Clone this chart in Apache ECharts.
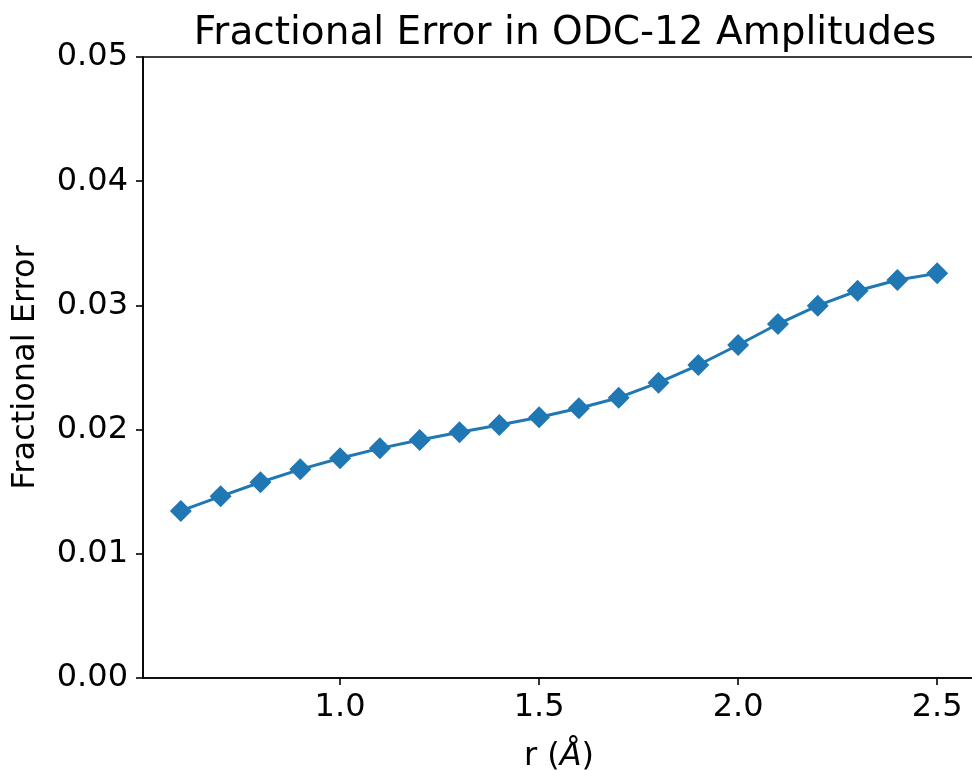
<!DOCTYPE html>
<html>
<head>
<meta charset="utf-8">
<script src="https://cdn.jsdelivr.net/npm/echarts@6/dist/echarts.min.js"></script>
<style>
html,body{margin:0;padding:0;background:#fff;}
#chart{width:972px;height:770px;}
</style>
</head>
<body>
<div id="chart"></div>
<script>
// ---- data ----
const rValues = [0.6, 0.7, 0.8, 0.9, 1.0, 1.1, 1.2, 1.3, 1.4, 1.5, 1.6, 1.7, 1.8, 1.9, 2.0, 2.1, 2.2, 2.3, 2.4, 2.5];
const fracError = [0.01345, 0.01463, 0.01576, 0.01680, 0.01769, 0.01849, 0.01916, 0.01978, 0.02037, 0.02099,
                   0.02172, 0.02257, 0.02378, 0.02520, 0.02681, 0.02850, 0.02998, 0.03118, 0.03205, 0.03258];
const xTicks = [1.0, 1.5, 2.0, 2.5];
const yTicks = [0.00, 0.01, 0.02, 0.03, 0.04, 0.05];
const titleText = 'Fractional Error in ODC-12 Amplitudes';
const yLabel = 'Fractional Error';

const font = 'DejaVu Sans';
const chart = echarts.init(document.getElementById('chart'), null, {renderer: 'canvas'});
const option = {
  animation: false,
  backgroundColor: '#ffffff',
  title: {
    text: titleText,
    left: 560,
    textAlign: 'center',
    top: 9,
    textStyle: {fontFamily: font, fontSize: 39, fontWeight: 'normal', color: '#000'}
  },
  grid: {
    left: 143, top: 57, width: 832, height: 621,
    containLabel: false,
    outerBoundsMode: 'none',
    show: true, borderColor: '#000', borderWidth: 1.6, backgroundColor: 'transparent'
  },
  xAxis: {
    type: 'value',
    min: 0.505, max: 2.595,
    name: '{n|r (}{i|Å}{n|)}',
    nameLocation: 'middle',
    nameGap: 63,
    nameTextStyle: {
      fontFamily: font, fontSize: 32, color: '#000',
      rich: {
        n: {fontFamily: font, fontSize: 32, color: '#000'},
        i: {fontFamily: font, fontSize: 32, color: '#000', fontStyle: 'italic'}
      }
    },
    axisLine: {show: true, onZero: false, lineStyle: {color: '#000', width: 1.6}},
    axisTick: {show: true, inside: false, length: 7, lineStyle: {color: '#000', width: 1.6}, customValues: xTicks},
    axisLabel: {
      fontFamily: font, fontSize: 32, color: '#000', margin: 14,
      customValues: xTicks,
      formatter: v => v.toFixed(1)
    },
    splitLine: {show: false}
  },
  yAxis: {
    type: 'value',
    min: yTicks[0], max: yTicks[yTicks.length - 1], interval: 0.01,
    name: yLabel,
    nameLocation: 'middle',
    nameGap: 101,
    nameTextStyle: {fontFamily: font, fontSize: 32, color: '#000'},
    axisLine: {show: true, onZero: false, lineStyle: {color: '#000', width: 1.6}},
    axisTick: {show: true, inside: false, length: 7, lineStyle: {color: '#000', width: 1.6}},
    axisLabel: {
      fontFamily: font, fontSize: 32, color: '#000', margin: 15,
      formatter: v => v.toFixed(2)
    },
    splitLine: {show: false}
  },
  series: [{
    type: 'line',
    data: rValues.map((r, i) => [r, fracError[i]]),
    symbol: 'diamond',
    symbolSize: 22,
    showSymbol: true,
    itemStyle: {color: '#1f77b4'},
    lineStyle: {color: '#1f77b4', width: 3},
    clip: false
  }]
};
chart.setOption(option);
</script>
</body>
</html>
